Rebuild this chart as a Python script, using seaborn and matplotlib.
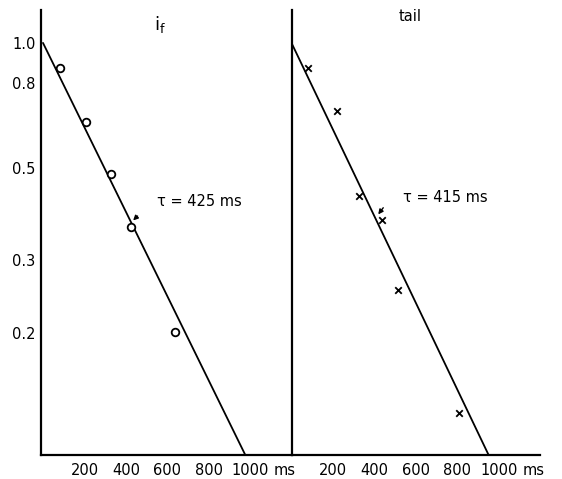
import matplotlib
matplotlib.use("Agg")
import matplotlib.pyplot as plt
import seaborn as sb
import pandas as pd

# data (time in ms, relative amplitude)
if_time = [82, 207, 328, 424, 635]
if_amp = [0.87, 0.644, 0.483, 0.361, 0.202]
tail_time = [81, 221, 325, 435, 515, 809]
tail_amp = [0.87, 0.687, 0.428, 0.375, 0.255, 0.129]

# fitted lines, endpoints
if_fit_time = [0, 975]
if_fit_amp = [1.0, 0.102]
tail_fit_time = [0, 950]
tail_fit_amp = [1.0, 0.102]

xticks = [200, 400, 600, 800, 1000]
yticks = [0.2, 0.3, 0.5, 0.8, 1.0]
ytick_labels = ["0.2", "0.3", "0.5", "0.8", "1.0"]

sb.set_style("white")
plt.rcParams["font.family"] = ["DejaVu Sans"]
plt.rcParams["text.color"] = "black"
plt.rcParams["xtick.color"] = "black"
plt.rcParams["ytick.color"] = "black"
plt.rcParams["xtick.labelcolor"] = "black"
plt.rcParams["ytick.labelcolor"] = "black"

W, H = 562, 479
fig = plt.figure(figsize=(W / 100, H / 100), dpi=100)

ybot, ytop = 455, 10
ax1 = fig.add_axes([41 / W, 1 - ybot / H, (292 - 41) / W, (ybot - ytop) / H])
ax2 = fig.add_axes([292 / W, 1 - ybot / H, (540 - 292) / W, (ybot - ytop) / H])

px_per_ms = 0.2075
ylim = (0.102, 1.2)

df_if = pd.DataFrame({"t": if_time, "amp": if_amp})
df_tail = pd.DataFrame({"t": tail_time, "amp": tail_amp})

sb.lineplot(x=if_fit_time, y=if_fit_amp, ax=ax1, color="black", lw=1.3)
sb.scatterplot(data=df_if, x="t", y="amp", ax=ax1, marker="o", s=30,
               facecolor="white", edgecolor="black", linewidth=1.3, zorder=3)

sb.lineplot(x=tail_fit_time, y=tail_fit_amp, ax=ax2, color="black", lw=1.3)
sb.scatterplot(data=df_tail, x="t", y="amp", ax=ax2, marker="x", s=22,
               color="black", linewidth=1.3, zorder=3)

for ax, x0 in [(ax1, 41), (ax2, 292)]:
    ax.set_yscale("log")
    ax.set_ylim(*ylim)
    left_ms = (43 - x0) / px_per_ms if ax is ax1 else (291.5 - x0) / px_per_ms
    width = (292 - 41) if ax is ax1 else (540 - 292)
    ax.set_xlim(-left_ms, -left_ms + width / px_per_ms)
    ax.set_xticks(xticks)
    ax.set_xticklabels([str(v) for v in xticks], fontsize=10.5)
    ax.minorticks_off()
    ax.set_xlabel("")
    ax.set_ylabel("")
    for s in ["top", "right"]:
        ax.spines[s].set_visible(False)
    for s in ["left", "bottom"]:
        ax.spines[s].set_linewidth(1.6)
        ax.spines[s].set_color("black")
    ax.tick_params(axis="both", direction="in", length=3, width=1.2,
                   colors="black", pad=6)
    ax.patch.set_alpha(0)

ax1.set_yticks(yticks)
ax1.set_yticklabels(ytick_labels, fontsize=10.5)
ax1.tick_params(axis="y", pad=4)
ax2.set_yticks([])

# titles and time constants
ax1.text(565, 1.11, r"$\mathsf{i_f}$", fontsize=13, ha="center", va="center",
         color="black")
ax2.text(571, 1.16, "tail", fontsize=10.5, ha="center", va="center",
         color="black")
ax1.text(549, 0.416, "τ = 425 ms", fontsize=10.5, ha="left", va="center",
         color="black")
ax2.text(537, 0.425, "τ = 415 ms", fontsize=10.5, ha="left", va="center",
         color="black")

# arrows marking tau on the fitted lines
ax1.annotate("", xy=(425, 0.37), xytext=(6, 6), textcoords="offset points",
             arrowprops=dict(arrowstyle="-|>", color="black", lw=1,
                             mutation_scale=7))
ax2.annotate("", xy=(410, 0.382), xytext=(6, 8), textcoords="offset points",
             arrowprops=dict(arrowstyle="-|>", color="black", lw=1,
                             mutation_scale=7))

# "ms" unit after the last x tick
ax1.text(1110, -0.034, "ms", fontsize=10.5, ha="left", va="center",
         color="black", transform=ax1.get_xaxis_transform())
ax2.text(1114, -0.034, "ms", fontsize=10.5, ha="left", va="center",
         color="black", transform=ax2.get_xaxis_transform())

fig.savefig("out.png", dpi=100)
